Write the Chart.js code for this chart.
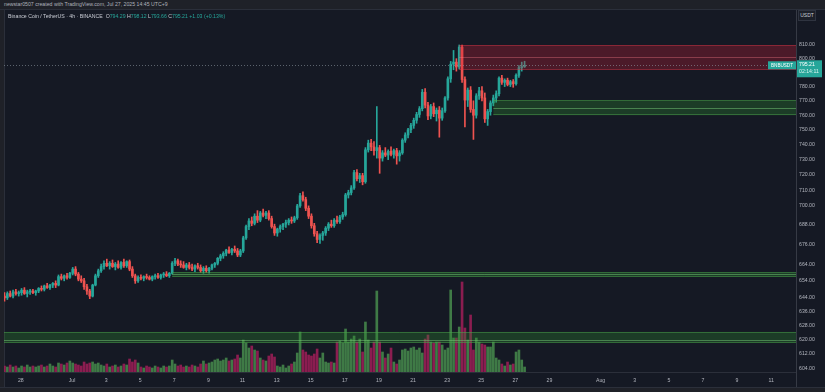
<!DOCTYPE html>
<html>
<head>
<meta charset="utf-8">
<script src="https://cdn.jsdelivr.net/npm/chart.js@4.4.1/dist/chart.umd.min.js"></script>
<style>
html,body{margin:0;padding:0;width:825px;height:392px;overflow:hidden;background:#151924;font-family:"Liberation Sans",Arial,sans-serif;}
#topbar{position:absolute;left:0;top:0;width:825px;height:9px;background:#1f2128;border-bottom:1px solid #2b2f3a;}
#credit{position:absolute;left:4px;top:1px;font-size:5.2px;color:#aeb2bb;white-space:nowrap;}
#leftbar{position:absolute;left:0;top:10px;width:4px;height:382px;background:#1f2128;border-right:1px solid #2b2f3a;}
#legend{position:absolute;left:8px;top:13px;font-size:5.2px;color:#c9ccd4;white-space:nowrap;}
#legend .v{color:#26a69a;}
#unit{position:absolute;left:798px;top:10px;width:16px;height:9px;line-height:9px;text-align:center;font-size:5px;color:#c9ccd4;background:#1c2029;border:1px solid #2f3440;}
#wrap{position:absolute;left:0;top:10px;width:825px;height:376px;}
#bottombar{position:absolute;left:0;top:387px;width:825px;height:5px;background:#1f2128;border-top:1px solid #2b2f3a;}
#axisSep{position:absolute;left:796px;top:372px;width:1px;height:15px;background:#363a45;}
</style>
</head>
<body>
<div id="topbar"></div>
<div id="credit">newstar0507 created with TradingView.com, Jul 27, 2025 14:45 UTC+9</div>
<div id="leftbar"></div>
<div id="wrap"><canvas id="c" width="825" height="376"></canvas></div>
<div id="legend">Binance Coin / TetherUS · 4h · BINANCE &nbsp;O<span class="v">794.29</span> H<span class="v">798.12</span> L<span class="v">793.66</span> C<span class="v">795.21</span> <span class="v">+1.03 (+0.13%)</span></div>
<div id="unit">USDT</div>
<div id="axisSep"></div>
<div id="bottombar"></div>
<script>
// ---- data ----
const firstCandle = '2025-06-27T01:00';
const candleHours = 4;
// [open, high, low, close]
const ohlc = [
 // Jun 27
 [645,647,642,644],[644,647.5,643,646.5],[646.5,648,644.5,645],[645,648.5,644,647.5],[647.5,649,645.5,646.5],[646.5,648,645,647],
 // Jun 28
 [647,649.5,645.5,648.5],[648.5,650,646,646.5],[646.5,648.5,644.5,647.5],[647.5,649,646,648],[648,649,646.5,647],[647,648.5,645.5,648],
 // Jun 29
 [648,650,647,649.5],[649.5,651,648,649],[649,651.5,648,651],[651,652.5,649.5,650],[650,652,649,651.5],[651.5,653,650,652.5],
 // Jun 30
 [652.5,654,650,651.5],[651.5,657.5,651,656.5],[656.5,658,654.5,655.5],[655.5,657.5,654,657],[657,658.5,655,656],[656,659,655.5,658.5],
 // Jul 1
 [658.5,662,657.5,661],[661,662.5,657,658],[658,659,654,655],[655,657,653,654],[654,655.5,649,650.5],[650.5,652,646,648],
 // Jul 2
 [648,649,643.5,645],[645,652,644.5,651.5],[651.5,658,651,657],[657,661,656,660],[660,664,659,662.5],[662.5,666,661,664.5],
 // Jul 3
 [664.5,667,662.5,663],[663,665.5,661,664.5],[664.5,666.5,662,662.5],[662.5,665,660.5,664],[664,666,661.5,662],[662,665.5,661,665],
 // Jul 4
 [665,667,662,663],[663,666,662,665.5],[665.5,666.5,660,661],[661,662.5,656,657],[657,658,652.5,654],[654,657,653,656],
 // Jul 5
 [656,657.5,654.5,655.5],[655.5,657,654,656.5],[656.5,658,655,656],[656,657,654.5,655],[655,657,654,656.5],[656.5,658,655,657],
 // Jul 6
 [657,658.5,655.5,656],[656,658,655,657.5],[657.5,659,656,658],[658,659.5,656.5,657],[657,659,656,658.5],[658.5,665.5,658,664.5],
 // Jul 7
 [664.5,667.5,663,666],[666,667,663,664],[664,666,662,663.5],[663.5,665.5,661.5,662],[662,664.5,660.5,663.5],[663.5,665,661,662],
 // Jul 8
 [662,664,660,661],[661,663.5,659.5,663],[663,664.5,661,662],[662,663.5,659,660],[660,662.5,658.5,661.5],[661.5,663,659,660],
 // Jul 9
 [660,662,658.5,661.5],[661.5,664,660.5,663.5],[663.5,665,662,664.5],[664.5,668,663.5,667.5],[667.5,670,666,669],[669,671.5,667.5,670.5],
 // Jul 10
 [670.5,673,669,672.5],[672.5,674.5,670.5,671],[671,673.5,669.5,673],[673,675,671,672],[672,673.5,668.5,669.5],[669.5,673,668.5,672],
 // Jul 11
 [672,681,671,680],[680,688,679,687],[687,692,685,690.5],[690.5,693,687.5,689],[689,695,688,693.5],[693.5,697,689.5,691],
 // Jul 12
 [691,696.5,690,695.5],[695.5,698,693,694],[694,696.5,692,695.5],[695.5,697,691,692],[692,693.5,686,687],[687,688.5,681.5,683],
 // Jul 13
 [683,686,681,685.5],[685.5,688,683.5,687],[687,689,685,688.5],[688.5,691,686.5,689.5],[689.5,692,688,691],[691,693,689,690.5],
 // Jul 14
 [690.5,693.5,689.5,692.5],[692.5,701,691.5,700],[700,708,699,706.5],[706.5,709,703,704],[704,705.5,697,698.5],[698.5,700,692,693.5],
 // Jul 15
 [693.5,695,686,687.5],[687.5,689,681,682.5],[682.5,684,677,679],[679,682.5,676.5,681.5],[681.5,684,678.5,683],[683,687,681.5,686],
 // Jul 16
 [686,689.5,684.5,688.5],[688.5,691,686.5,687.5],[687.5,692,686.5,691],[691,693.5,689,690],[690,694,689,693],[693,696,691.5,694.5],
 // Jul 17
 [694.5,708,693.5,707],[707,710,705,708.5],[708.5,713,707,711.5],[711.5,723,710.5,721.5],[721.5,723.5,716,717.5],[717.5,721,715,719.5],
 // Jul 18
 [719.5,721,713.5,715.5],[715.5,738,714.5,736.5],[736.5,743,735,741],[741,743.5,736,738.5],[738.5,742,733,736],[736,766,731,738],
 // Jul 19
 [738,739.5,721,731],[731,736,729,734.5],[734.5,738,732,733],[733,736.5,730,735.5],[735.5,738.5,732.5,733.5],[733.5,737,731,736],
 // Jul 20
 [736,737.5,727,732.5],[732.5,736,729,734.5],[734.5,744,733.5,743],[743,748,741.5,746.5],[746.5,751,744.5,750],[750,754.5,748,753],
 // Jul 21
 [753,758,751,756.5],[756.5,762,754.5,760.5],[760.5,766,758.5,764.5],[764.5,778,763,776],[776,778.5,765,767],[767,769,757,759.5],
 // Jul 22
 [759.5,767.5,757.5,766],[766,768.5,759,761],[761,765,756,763.5],[763.5,766,745,758],[758,765,756.5,763],[763,773,762,772],
 // Jul 23
 [772,787,770.5,785.5],[785.5,798,783,796],[796,806,792,797.5],[797.5,800,791,794],[794,810,792.5,808.5],[808.5,810,783,785],
 // Jul 24
 [785,787,752,770.5],[770.5,779,766,777.5],[777.5,780,762,764],[764,770,743.5,760],[760,775,758,773.5],[773.5,779.5,771,777],
 // Jul 25
 [777,780,770,772],[772,775.5,755,757.5],[757.5,764,753,762.5],[762.5,770,760,768.5],[768.5,774,766.5,772],[772,777,769,775],
 // Jul 26
 [775,787,773.5,786],[786,788,781.5,783],[783,785.5,780,784.5],[784.5,786,780.5,781.5],[781.5,784.5,780,783.5],[783.5,785,779.5,782],
 // Jul 27
 [782,789,781,788],[788,795,786.5,793.5],[793.5,797.5,791,794.29],[794.29,798.12,793.66,795.21]
];
// volume (thousand BNB, estimated)
const volume = [
 6,5,7,5,6,4,  6,5,7,5,6,5,  6,7,5,6,8,6,  5,9,8,7,9,11,
 9,8,7,6,10,8,  9,10,8,9,7,6,  8,5,6,7,5,6,  8,7,13,10,12,9,
 5,4,6,5,4,6,  5,4,6,5,6,12,  8,6,7,5,6,5,  7,6,5,8,11,8,
 9,10,12,13,11,12,  14,11,12,13,17,14,  32,29,24,26,22,21,  14,12,11,16,18,15,
 6,5,7,4,6,8,  10,19,40,22,20,17,  16,18,23,14,19,10,  9,10,9,30,31,29,
 43,30,33,36,30,33,  20,50,32,24,30,81,  30,20,14,18,24,10,  8,12,22,23,21,24,
 25,22,24,19,33,37,  30,29,30,30,27,22,  24,82,34,34,45,90,  44,32,57,22,34,30,
 28,27,25,25,30,14,  12,8,6,10,7,8,  20,22,12,5
];
const priceTicks = [810,800,780,770,760,750,740,730,720,710,700,688,676,664,654,644,636,628,620,612,604];
const dateTicks = ['2025-06-28','2025-07-01','2025-07-03','2025-07-05','2025-07-07','2025-07-09','2025-07-11','2025-07-13','2025-07-15','2025-07-17','2025-07-19','2025-07-21','2025-07-23','2025-07-25','2025-07-27','2025-07-29','2025-08-01','2025-08-03','2025-08-05','2025-08-07','2025-08-09','2025-08-11'];
const dateLabels = ['28','Jul','3','5','7','9','11','13','15','17','19','21','23','25','27','29','Aug','3','5','7','9','11'];
// drawn zones
const zoneFrom = ['2025-07-23T17:00','2025-07-25T17:00','2025-07-06T21:00','2025-06-26T00:00'];
const zoneHigh = [810, 770.5, 659.2, 624.4];
const zoneLow  = [792, 760, 656.3, 618.2];
const zoneMid  = [801, 765, 658, 620];
const zoneTone = ['red','green','green','green'];
const lastPrice = 795.21;
const countdown = '02:14:11';
const symbol = 'BNBUSDT';
const viewFrom = '2025-06-27T00:17';
const viewTo = '2025-08-12T11:00';
const priceMin = 602.1, priceMax = 836.1;

// ---- helpers ----
const epoch = Date.parse('2025-06-28T00:00Z');
const dayOf = s => (Date.parse((s.length === 10 ? s + 'T00:00' : s) + 'Z') - epoch) / 864e5;
const t0 = dayOf(firstCandle);
const xs = ohlc.map((_, i) => t0 + i * candleHours / 24);
const isUp = ohlc.map(c => c[3] >= c[0]);
const UP = '#26a69a', DOWN = '#ef5350';
const VUP = 'rgba(70,140,76,0.85)', VDOWN = 'rgba(160,30,88,0.85)';
const tickDays = dateTicks.map(dayOf);

const bodyData = ohlc.map((c, i) => ({x: xs[i], y: [Math.min(c[0], c[3]), Math.max(c[0], c[3])]}));
const wickData = ohlc.map((c, i) => ({x: xs[i], y: [c[2], c[1]]}));
const volData = volume.map((v, i) => ({x: xs[i], y: v}));

Chart.defaults.font.family = '"Liberation Sans", Arial, sans-serif';

const overlay = {
  id: 'overlay',
  afterDatasetsDraw(chart) {
    const {ctx, chartArea: a, scales: {x, y}} = chart;
    ctx.save();
    ctx.beginPath(); ctx.rect(a.left, a.top, a.right - a.left, a.bottom - a.top); ctx.clip();
    zoneFrom.forEach((f, k) => {
      const x0 = x.getPixelForValue(dayOf(f));
      const yt = y.getPixelForValue(zoneHigh[k]);
      const yb = y.getPixelForValue(zoneLow[k]);
      const ym = y.getPixelForValue(zoneMid[k]);
      const red = zoneTone[k] === 'red';
      ctx.fillStyle = red ? 'rgba(205,30,52,0.30)' : 'rgba(45,150,45,0.28)';
      ctx.fillRect(x0, yt, a.right - x0, yb - yt);
      ctx.strokeStyle = red ? 'rgba(230,60,75,0.40)' : 'rgba(80,170,80,0.45)';
      ctx.lineWidth = 1;
      ctx.beginPath();
      ctx.moveTo(x0, Math.round(yt) + 0.5); ctx.lineTo(a.right, Math.round(yt) + 0.5);
      ctx.moveTo(x0, Math.round(yb) - 0.5); ctx.lineTo(a.right, Math.round(yb) - 0.5);
      ctx.stroke();
      ctx.strokeStyle = red ? 'rgba(255,130,140,0.35)' : 'rgba(120,200,120,0.5)';
      ctx.beginPath();
      ctx.moveTo(x0, Math.round(ym) + 0.5); ctx.lineTo(a.right, Math.round(ym) + 0.5);
      ctx.stroke();
    });
    const py = Math.round(y.getPixelForValue(lastPrice)) + 0.5;
    ctx.setLineDash([1, 2]);
    ctx.strokeStyle = 'rgba(150,160,170,0.55)';
    ctx.beginPath(); ctx.moveTo(a.left, py); ctx.lineTo(a.right, py); ctx.stroke();
    ctx.restore();
  },
  afterDraw(chart) {
    const {ctx, chartArea: a, scales: {y}} = chart;
    const py = y.getPixelForValue(lastPrice);
    ctx.save();
    ctx.fillStyle = UP;
    ctx.fillRect(a.right - 28, py - 4, 28, 8);
    ctx.fillStyle = '#ffffff';
    ctx.font = '4.6px "Liberation Sans", Arial, sans-serif';
    ctx.textAlign = 'center'; ctx.textBaseline = 'middle';
    ctx.fillText(symbol, a.right - 14, py + 0.3);
    ctx.fillStyle = UP;
    ctx.fillRect(a.right + 1, py - 5, 25, 17);
    ctx.fillStyle = '#ffffff';
    ctx.font = '5.2px "Liberation Sans", Arial, sans-serif';
    ctx.textAlign = 'left';
    ctx.fillText(lastPrice.toFixed(2), a.right + 3, py - 0.5);
    ctx.fillStyle = '#d9f2ef';
    ctx.fillText(countdown, a.right + 3, py + 6.5);
    ctx.restore();
  }
};

new Chart(document.getElementById('c'), {
  type: 'bar',
  data: {
    datasets: [
      {label: 'body', data: bodyData, backgroundColor: isUp.map(u => u ? UP : DOWN), barThickness: 2, minBarLength: 1, grouped: false, order: 0, yAxisID: 'y', borderWidth: 0},
      {label: 'wick', data: wickData, backgroundColor: isUp.map(u => u ? UP : DOWN), barThickness: 1, grouped: false, order: 1, yAxisID: 'y', borderWidth: 0},
      {label: 'volume', data: volData, backgroundColor: isUp.map(u => u ? VUP : VDOWN), barThickness: 2, grouped: false, order: 2, yAxisID: 'yv', borderWidth: 0}
    ]
  },
  options: {
    responsive: false,
    animation: false,
    devicePixelRatio: 1,
    layout: {autoPadding: false, padding: {left: 4, right: 0, top: 0, bottom: 0}},
    plugins: {legend: {display: false}, tooltip: {enabled: false}},
    scales: {
      x: {
        type: 'linear', min: dayOf(viewFrom), max: dayOf(viewTo), offset: false,
        grid: {display: false, drawTicks: false},
        border: {display: true, color: '#2b2f3a'},
        ticks: {color: '#b2b5be', font: {size: 5.2}, padding: 5, autoSkip: false, maxRotation: 0,
          callback: (v, i) => dateLabels[i]},
        afterBuildTicks: s => { s.ticks = tickDays.map(v => ({value: v})); },
        afterFit: s => { s.height = 14; s.paddingLeft = 0; s.paddingRight = 0; }
      },
      y: {
        type: 'logarithmic', position: 'right', min: priceMin, max: priceMax, bounds: 'data',
        grid: {display: false, drawTicks: false},
        border: {display: true, color: '#363a45'},
        ticks: {color: '#b2b5be', font: {size: 5.2}, padding: 3, autoSkip: false,
          callback: v => Number(v).toFixed(2)},
        afterBuildTicks: s => { s.ticks = priceTicks.map(v => ({value: v})); },
        afterFit: s => { s.width = 29; s.paddingTop = 0; s.paddingBottom = 0; }
      },
      yv: {type: 'linear', display: false, min: 0, max: 362,
        afterFit: s => { s.paddingTop = 0; s.paddingBottom = 0; }}
    }
  },
  plugins: [overlay]
});
</script>
</body>
</html>
